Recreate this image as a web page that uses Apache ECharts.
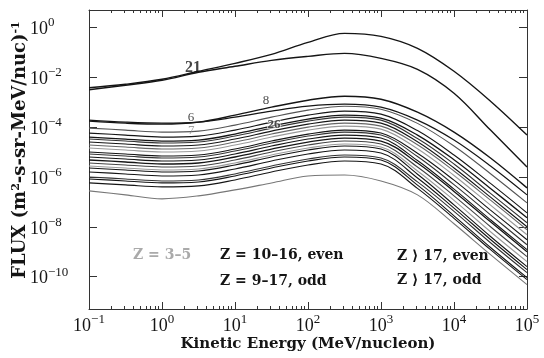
<!DOCTYPE html>
<html>
<head>
<meta charset="utf-8">
<script src="https://cdn.jsdelivr.net/npm/echarts@6/dist/echarts.min.js"></script>
<style>
  html, body { margin: 0; padding: 0; background: #fff; }
  #c { width: 544px; height: 358px; }
</style>
</head>
<body>
<div id="c"></div>
<script>
// Kinetic energy grid, log10(MeV/nucleon)
const logEnergy = [-1, -0.5, 0, 0.5, 1, 1.5, 2, 2.5, 3, 3.5, 4, 4.5, 5];

// log10 of differential flux, (m^2 s sr MeV/nuc)^-1, one array per element
const fluxH  = [-2.42, -2.28, -2.08, -1.76, -1.44, -1.08, -0.60, -0.24, -0.36, -0.84, -1.76, -2.96, -4.32];
const fluxHe = [-2.50, -2.32, -2.12, -1.80, -1.56, -1.32, -1.16, -1.04, -1.24, -1.68, -2.64, -4.12, -5.60];
const fluxC  = [-3.72, -3.80, -3.84, -3.80, -3.60, -3.36, -3.16, -3.08, -3.20, -3.72, -4.52, -5.56, -6.72];
const fluxO  = [-3.76, -3.84, -3.88, -3.80, -3.52, -3.20, -2.92, -2.76, -2.88, -3.40, -4.20, -5.24, -6.44];
const fluxN  = [-4.04, -4.12, -4.20, -4.16, -3.92, -3.60, -3.32, -3.16, -3.28, -3.85, -4.76, -5.87, -7.04];
const fluxMg = [-4.24, -4.32, -4.40, -4.36, -4.12, -3.80, -3.52, -3.36, -3.48, -4.14, -5.12, -6.26, -7.44];
const fluxFe = [-4.40, -4.48, -4.56, -4.52, -4.28, -3.96, -3.68, -3.52, -3.64, -4.32, -5.31, -6.46, -7.64];
const fluxNe = [-4.48, -4.56, -4.64, -4.60, -4.36, -4.04, -3.76, -3.60, -3.72, -4.46, -5.48, -6.66, -7.84];
const fluxSi = [-4.60, -4.68, -4.76, -4.72, -4.48, -4.16, -3.88, -3.72, -3.84, -4.59, -5.64, -6.81, -8.00];
const fluxB  = [-4.72, -4.80, -4.88, -4.84, -4.60, -4.28, -4.00, -3.84, -3.96, -4.71, -5.76, -6.93, -8.12];
const fluxLi = [-4.84, -4.92, -5.00, -4.96, -4.72, -4.40, -4.12, -3.96, -4.08, -4.87, -5.94, -7.13, -8.32];
const fluxS  = [-5.00, -5.08, -5.16, -5.12, -4.88, -4.56, -4.28, -4.12, -4.24, -5.05, -6.13, -7.33, -8.52];
const fluxNa = [-5.08, -5.16, -5.24, -5.20, -4.96, -4.64, -4.36, -4.20, -4.32, -5.18, -6.31, -7.52, -8.72];
const fluxAl = [-5.20, -5.28, -5.36, -5.32, -5.08, -4.76, -4.48, -4.32, -4.44, -5.34, -6.49, -7.72, -8.92];
const fluxCa = [-5.32, -5.40, -5.48, -5.44, -5.20, -4.88, -4.60, -4.44, -4.56, -5.44, -6.58, -7.80, -9.00];
const fluxAr = [-5.44, -5.52, -5.60, -5.56, -5.32, -5.00, -4.72, -4.56, -4.68, -5.60, -6.76, -8.00, -9.20];
const fluxF  = [-5.56, -5.64, -5.72, -5.68, -5.44, -5.12, -4.84, -4.68, -4.80, -5.76, -6.94, -8.20, -9.40];
const fluxP  = [-5.64, -5.72, -5.80, -5.76, -5.52, -5.20, -4.92, -4.76, -4.88, -5.89, -7.12, -8.39, -9.60];
const fluxCr = [-5.80, -5.88, -5.96, -5.92, -5.68, -5.36, -5.08, -4.92, -5.04, -6.04, -7.25, -8.51, -9.72];
const fluxNi = [-6.00, -6.08, -6.16, -6.12, -5.88, -5.56, -5.28, -5.12, -5.24, -6.20, -7.38, -8.64, -9.84];
const fluxCl = [-6.08, -6.16, -6.24, -6.20, -5.96, -5.64, -5.36, -5.20, -5.32, -6.33, -7.56, -8.83, -10.04];
const fluxK  = [-6.24, -6.32, -6.40, -6.36, -6.12, -5.80, -5.52, -5.36, -5.48, -6.46, -7.66, -8.92, -10.12];
const fluxBe = [-6.56, -6.72, -6.88, -6.76, -6.52, -6.24, -5.96, -5.92, -6.16, -6.72, -7.88, -9.12, -10.32];

// Tick labels (decade exponents)
const xTickExponents = [-1, 0, 1, 2, 3, 4, 5];
const yTickExponents = [-10, -8, -6, -4, -2, 0];
const minorMultipliers = [2, 3, 4, 5, 6, 7, 8, 9];

// In-plot curve labels
const curveLabelText = ['21', '6', '7', '8', '26'];
const curveLabelLogE = [0.425, 0.397, 0.40, 1.425, 1.534];
const curveLabelLogF = [-1.64, -3.60, -4.12, -2.92, -3.92];

const INK = '#151515';
const GREY = '#9a9a9a';

const curves = [
  { name: 'H',  data: fluxH,  color: INK, width: 1.4 },
  { name: 'He', data: fluxHe, color: INK, width: 1.4 },
  { name: 'C',  data: fluxC,  color: INK, width: 1.2 },
  { name: 'O',  data: fluxO,  color: INK, width: 1.4 },
  { name: 'N',  data: fluxN,  color: '#555' },
  { name: 'Mg', data: fluxMg, color: INK },
  { name: 'Fe', data: fluxFe, color: INK, width: 1.3 },
  { name: 'Ne', data: fluxNe, color: '#333' },
  { name: 'Si', data: fluxSi, color: INK },
  { name: 'B',  data: fluxB,  color: '#666' },
  { name: 'Li', data: fluxLi, color: GREY },
  { name: 'S',  data: fluxS,  color: INK },
  { name: 'Na', data: fluxNa, color: '#333' },
  { name: 'Al', data: fluxAl, color: INK },
  { name: 'Ca', data: fluxCa, color: INK, width: 1.3 },
  { name: 'Ar', data: fluxAr, color: '#444' },
  { name: 'F',  data: fluxF,  color: GREY },
  { name: 'P',  data: fluxP,  color: INK },
  { name: 'Cr', data: fluxCr, color: INK },
  { name: 'Ni', data: fluxNi, color: '#333' },
  { name: 'Cl', data: fluxCl, color: INK },
  { name: 'K',  data: fluxK,  color: INK },
  { name: 'Be', data: fluxBe, color: '#777' }
];

const minorX = [];
for (let d = -1; d < 5; d++) {
  minorMultipliers.forEach(m => minorX.push(d + Math.log10(m)));
}

function expText(e) {
  return e < 0 ? '\u2212' + (-e) : String(e);
}
const tickRich = {
  b: { fontFamily: 'Liberation Serif', fontSize: 18, color: INK, verticalAlign: 'bottom', lineHeight: 22 },
  s: { fontFamily: 'Liberation Serif', fontSize: 13, color: INK, verticalAlign: 'top', lineHeight: 14 }
};
const tickFormatter = v => '{b|10}{s|' + expText(Math.round(v)) + '}';

const frameLine = { show: true, onZero: false, lineStyle: { color: '#333', width: 1 } };
const noLine = { show: false, onZero: false };

const xBase = { type: 'value', min: -1, max: 5, splitLine: { show: false } };
const yBase = { type: 'value', min: -11.3, max: 0.7, splitLine: { show: false } };

const series = curves.map(c => ({
  type: 'line',
  name: c.name,
  data: logEnergy.map((x, i) => [x, c.data[i]]),
  smooth: 0.35,
  showSymbol: false,
  silent: true,
  clip: true,
  lineStyle: { color: c.color, width: c.width || 1.1 },
  z: 2
}));

const labelColor = { '7': '#888', '26': '#222' };
series.push({
  type: 'scatter',
  name: 'labels',
  symbolSize: 0,
  silent: true,
  z: 5,
  data: curveLabelText.map((t, i) => ({
    value: [curveLabelLogE[i], curveLabelLogF[i]],
    label: {
      formatter: t,
      color: labelColor[t] || INK,
      fontWeight: (t === '21' || t === '26') ? 'bold' : 'normal',
      fontSize: t === '21' ? 16 : 13,
      textBorderColor: t === '26' ? 'rgba(255,255,255,0.7)' : 'transparent',
      textBorderWidth: t === '26' ? 2 : 0
    }
  })),
  label: {
    show: true,
    position: 'inside',
    fontFamily: 'Liberation Serif'
  }
});

const legendFont = 'bold 14px "DejaVu Serif"';

const chart = echarts.init(document.getElementById('c'), null, { renderer: 'canvas' });
chart.setOption({
  animation: false,
  backgroundColor: '#fff',
  grid: { left: 89, top: 10, width: 438, height: 299, containLabel: false },
  xAxis: [
    Object.assign({}, xBase, {
      position: 'bottom', interval: 1,
      axisLine: frameLine,
      axisTick: { show: true, inside: true, length: 7, lineStyle: { color: '#333' } },
      axisLabel: { formatter: tickFormatter, rich: tickRich, margin: 4, showMinLabel: true, showMaxLabel: true }
    }),
    Object.assign({}, xBase, {
      position: 'bottom', offset: 0,
      axisLine: noLine,
      axisTick: { show: true, inside: true, length: 3, customValues: minorX, lineStyle: { color: '#333' } },
      axisLabel: { show: false }
    }),
    Object.assign({}, xBase, {
      position: 'top', interval: 1, offset: 0,
      axisLine: frameLine,
      axisTick: { show: true, inside: true, length: 7, lineStyle: { color: '#333' } },
      axisLabel: { show: false }
    }),
    Object.assign({}, xBase, {
      position: 'top', offset: 0,
      axisLine: noLine,
      axisTick: { show: true, inside: true, length: 3, customValues: minorX, lineStyle: { color: '#333' } },
      axisLabel: { show: false }
    })
  ],
  yAxis: [
    Object.assign({}, yBase, {
      position: 'left',
      axisLine: frameLine,
      axisTick: { show: true, inside: true, length: 8, customValues: yTickExponents, lineStyle: { color: '#333' } },
      axisLabel: { customValues: yTickExponents, formatter: tickFormatter, rich: tickRich, align: 'left', margin: 59 }
    }),
    Object.assign({}, yBase, {
      position: 'right', offset: 0,
      axisLine: frameLine,
      axisTick: { show: true, inside: true, length: 8, customValues: yTickExponents, lineStyle: { color: '#333' } },
      axisLabel: { show: false }
    })
  ],
  series: series,
  graphic: [
    {
      type: 'text', x: 20, y: 150, rotation: Math.PI / 2,
      style: {
        text: 'FLUX (m{s|2}-s-sr-MeV/nuc){s|-1}',
        font: 'bold 18px "DejaVu Serif"',
        fill: INK, align: 'center', verticalAlign: 'middle',
        rich: { s: { fontSize: 11, fontWeight: 'bold', fontFamily: 'DejaVu Serif', verticalAlign: 'top', fill: INK } }
      }
    },
    {
      type: 'text', x: 308, y: 344,
      style: { text: 'Kinetic Energy (MeV/nucleon)', font: 'bold 15px "DejaVu Serif"', fill: INK, align: 'center', verticalAlign: 'middle' }
    },
    { type: 'text', x: 133, y: 255, style: { text: 'Z = 3\u20135', font: legendFont, fill: '#aaa', verticalAlign: 'middle' } },
    { type: 'text', x: 220, y: 255, style: { text: 'Z = 10\u201316, even', font: legendFont, fill: INK, verticalAlign: 'middle' } },
    { type: 'text', x: 220, y: 281, style: { text: 'Z = 9\u201317, odd', font: legendFont, fill: INK, verticalAlign: 'middle' } },
    { type: 'text', x: 397, y: 256, style: { text: 'Z \u27e9 17, even', font: legendFont, fill: INK, verticalAlign: 'middle' } },
    { type: 'text', x: 397, y: 280, style: { text: 'Z \u27e9 17, odd', font: legendFont, fill: INK, verticalAlign: 'middle' } }
  ]
});
</script>
</body>
</html>
